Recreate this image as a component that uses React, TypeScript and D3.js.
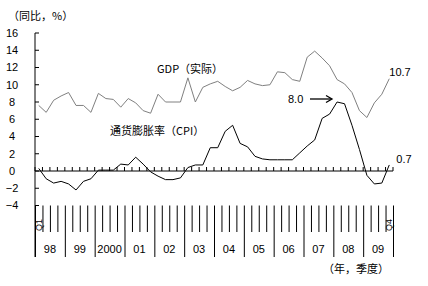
import React from "react";
import * as d3 from "d3";

const years = ["98", "99", "2000", "01", "02", "03", "04", "05", "06", "07", "08", "09"];
const gdp = [
  7.6, 6.8, 8.2, 8.7,
  9.1, 7.6, 7.6, 6.8,
  9.0, 8.4, 8.3, 7.4,
  8.4, 7.9, 7.0, 6.7,
  8.9, 8.0, 8.0, 8.0,
  10.8, 8.0, 9.7, 10.1,
  10.4, 9.8, 9.3, 9.7,
  10.5, 10.1, 9.9, 10.0,
  11.5, 11.4, 10.6, 10.4,
  13.2, 13.9, 13.1, 12.2,
  10.6, 10.1, 9.1, 7.0,
  6.2, 7.9, 8.9, 10.7,
];
const cpi = [
  0.3, -0.9, -1.4, -1.2,
  -1.5, -2.2, -1.2, -0.9,
  0.1, 0.1, 0.1, 0.8,
  0.7, 1.6, 0.8, -0.1,
  -0.6, -1.0, -1.0, -0.8,
  0.4, 0.7, 0.7, 2.7,
  2.7, 4.6, 5.3, 3.2,
  2.8, 1.7, 1.4, 1.3,
  1.3, 1.3, 1.3, 2.1,
  2.9, 3.6, 6.1, 6.6,
  8.0, 7.8, 5.3, 2.5,
  -0.5, -1.5, -1.4, 0.7,
];
const yTicks = [16, 14, 12, 10, 8, 6, 4, 2, 0, -2, -4];

const FONT_NUM = "'Liberation Sans', Arial, sans-serif";
const FONT_CJK = "'Noto Sans CJK SC', 'Noto Sans', sans-serif";

export default function App() {
  const W = 428, H = 286;
  const nQ = years.length * 4;
  const x = d3.scaleLinear().domain([0, nQ]).range([35, 393]);
  const y = d3.scaleLinear().domain([-4, 16]).range([205.5, 33]);
  const line = d3.line<number>().x((_, i) => x(i + 0.5)).y((d) => y(d));
  const bands = d3.range(nQ + 1);
  const lastI = nQ - 1;

  return (
    <svg width={W} height={H} style={{ position: "fixed", left: 0, top: 0, background: "#fff" }}>
      <rect width={W} height={H} fill="#fff" />
      {/* y axis */}
      <line x1={35} x2={35} y1={y(16)} y2={257} stroke="#000" />
      {yTicks.map((t) => (
        <g key={t}>
          <line x1={35} x2={39} y1={y(t)} y2={y(t)} stroke="#000" />
          <text x={12} y={y(t)} dy="0.35em" textAnchor="middle" fontSize={11} fontFamily={FONT_NUM}>
            {t < 0 ? "\u2212" + Math.abs(t) : t}
          </text>
        </g>
      ))}
      {/* zero line */}
      <line x1={35} x2={393} y1={y(0)} y2={y(0)} stroke="#000" />
      {bands.map((b) => (
        <line key={"z" + b} x1={x(b)} x2={x(b)} y1={y(0)} y2={y(0) - 4} stroke="#000" />
      ))}
      {/* bottom category band lines */}
      {bands.map((b) => (
        <line
          key={"b" + b}
          x1={x(b) + 0.5}
          x2={x(b) + 0.5}
          y1={y(-4)}
          y2={b % 4 === 0 ? 257 : 232}
          stroke="#000"
        />
      ))}
      {years.map((yr, i) => (
        <text
          key={yr}
          x={x(i * 4 + 2)}
          y={249}
          dy="0.35em"
          textAnchor="middle"
          fontSize={11}
          fontFamily={FONT_NUM}
        >
          {yr}
        </text>
      ))}
      <text
        transform={`translate(${x(0.5) + 3},225) rotate(-90)`}
        textAnchor="middle"
        fontSize={9}
        fontFamily={FONT_NUM}
      >
        Q1
      </text>
      <text
        transform={`translate(${x(lastI + 0.5) + 3},225) rotate(-90)`}
        textAnchor="middle"
        fontSize={9}
        fontFamily={FONT_NUM}
      >
        Q4
      </text>
      {/* series */}
      <path d={line(gdp) || ""} fill="none" stroke="#808080" strokeWidth={1} />
      <path d={line(cpi) || ""} fill="none" stroke="#000" strokeWidth={1} />
      {/* labels */}
      <text x={8} y={16} dy="0.35em" fontSize={11} fontFamily={FONT_CJK}>
        （同比，%）
      </text>
      <text x={157} y={69} dy="0.35em" fontSize={11} fontFamily={FONT_CJK}>
        GDP（实际）
      </text>
      <text x={110} y={131} dy="0.35em" fontSize={11} fontFamily={FONT_CJK}>
        通货膨胀率（CPI）
      </text>
      <text x={x(lastI + 0.5) + 0} y={72} dy="0.35em" fontSize={11} fontFamily={FONT_NUM}>
        {gdp[lastI].toFixed(1)}
      </text>
      <text x={x(lastI + 0.5) + 7} y={159} dy="0.35em" fontSize={11} fontFamily={FONT_NUM}>
        {cpi[lastI].toFixed(1)}
      </text>
      <text x={288} y={99} dy="0.35em" fontSize={11} fontFamily={FONT_NUM}>
        {d3.max(cpi)!.toFixed(1)}
      </text>
      <line x1={310} x2={331} y1={99} y2={99} stroke="#000" strokeWidth={1.3} />
      <path d="M326,95.5 L332,99 L326,102.5" fill="none" stroke="#000" strokeWidth={1.3} />
      <text x={323} y={269} dy="0.35em" fontSize={11} fontFamily={FONT_CJK}>
        （年，季度）
      </text>
    </svg>
  );
}
